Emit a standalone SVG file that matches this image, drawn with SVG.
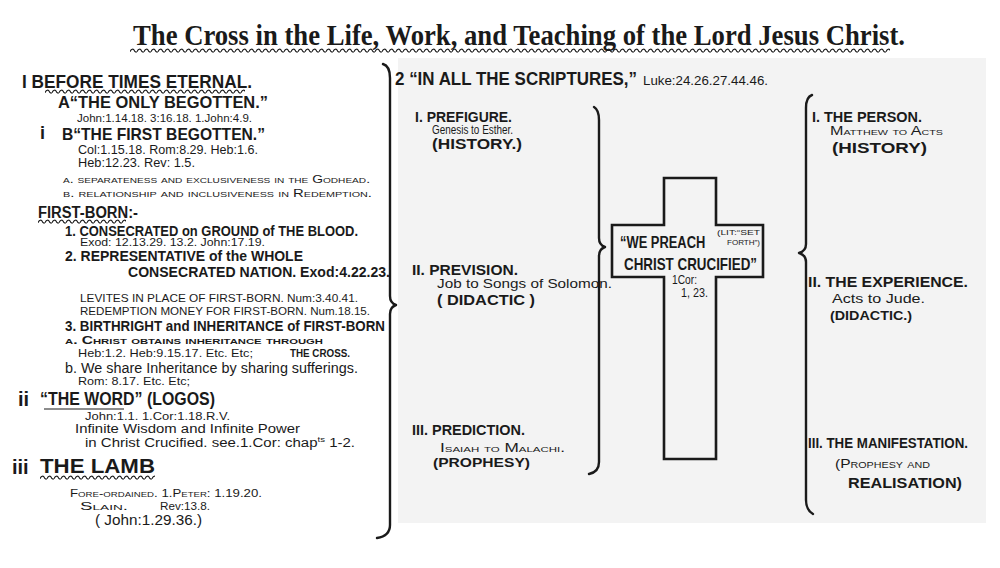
<svg xmlns="http://www.w3.org/2000/svg" width="1000" height="568" viewBox="0 0 1000 568">
<style>
.t{font-family:"Liberation Sans",Arial,sans-serif;fill:#1a1a1a}
.s{font-family:"Liberation Serif","Times New Roman",serif;fill:#1a1a1a}
.b{font-weight:bold}
.sc{font-variant:small-caps}
.br{fill:none;stroke:#1a1a1a;stroke-width:2.4;stroke-linecap:round;stroke-linejoin:round}
.cr{fill:none;stroke:#1a1a1a;stroke-width:2.6}
</style>
<defs>
<pattern id="wave" patternUnits="userSpaceOnUse" width="7" height="5">
<path d="M0,3.8 C1,0.8 3.5,0.4 4.3,2.5 C4.8,4 6,4.2 7,3.8" fill="none" stroke="#1a1a1a" stroke-width="1.1"/>
</pattern>
</defs>
<rect width="1000" height="568" fill="#ffffff"/>
<rect x="398" y="58" width="588" height="465" fill="#f3f3f3"/>

<g id="title">
<text class="s b" x="133" y="45" font-size="30" textLength="772" lengthAdjust="spacingAndGlyphs">The Cross in the Life, Work, and Teaching of the Lord Jesus Christ.</text>
<rect x="0" y="0" width="760" height="5" fill="url(#wave)" transform="translate(130,48)"/>
</g>

<g id="before-times-eternal">
<text class="t b" x="22" y="88" font-size="18" textLength="230" lengthAdjust="spacingAndGlyphs">I BEFORE TIMES ETERNAL.</text>
<rect x="0" y="0" width="200" height="5" fill="url(#wave)" transform="translate(45,89)"/>
<text class="t b" x="58" y="108" font-size="17" textLength="210" lengthAdjust="spacingAndGlyphs">A“THE ONLY BEGOTTEN.”</text>
<text class="t" x="77" y="122" font-size="11" textLength="175" lengthAdjust="spacingAndGlyphs">John:1.14.18. 3:16.18. 1.John:4.9.</text>
<text class="t b" x="40" y="139" font-size="18">i</text>
<text class="t b" x="62" y="140" font-size="17" textLength="203" lengthAdjust="spacingAndGlyphs">B“THE FIRST BEGOTTEN.”</text>
<text class="t" x="78" y="154" font-size="12" textLength="180" lengthAdjust="spacingAndGlyphs">Col:1.15.18. Rom:8.29. Heb:1.6.</text>
<text class="t" x="78" y="167" font-size="12" textLength="117" lengthAdjust="spacingAndGlyphs">Heb:12.23. Rev: 1.5.</text>
<text class="t sc" x="63" y="183" font-size="11" textLength="307" lengthAdjust="spacingAndGlyphs">a. separateness and exclusiveness in the Godhead.</text>
<text class="t sc" x="63" y="197" font-size="11" textLength="309" lengthAdjust="spacingAndGlyphs">b. relationship and inclusiveness in Redemption.</text>
</g>

<g id="first-born">
<text class="t b" x="38" y="218" font-size="16" textLength="100" lengthAdjust="spacingAndGlyphs">FIRST-BORN:-</text>
<rect x="0" y="0" width="88" height="5" fill="url(#wave)" transform="translate(38,219)"/>
<text class="t b" x="65" y="236" font-size="14" textLength="293" lengthAdjust="spacingAndGlyphs">1. CONSECRATED on GROUND of THE BLOOD.</text>
<text class="t" x="80" y="246" font-size="10" textLength="185" lengthAdjust="spacingAndGlyphs">Exod: 12.13.29. 13.2. John:17.19.</text>
<text class="t b" x="65" y="261" font-size="14" textLength="238" lengthAdjust="spacingAndGlyphs">2. REPRESENTATIVE of the WHOLE</text>
<text class="t b" x="128" y="277" font-size="15" textLength="262" lengthAdjust="spacingAndGlyphs">CONSECRATED NATION. Exod:4.22.23.</text>
<text class="t" x="80" y="302" font-size="10.5" textLength="278" lengthAdjust="spacingAndGlyphs">LEVITES IN PLACE OF FIRST-BORN. Num:3.40.41.</text>
<text class="t" x="80" y="315" font-size="10.5" textLength="290" lengthAdjust="spacingAndGlyphs">REDEMPTION MONEY FOR FIRST-BORN. Num.18.15.</text>
<text class="t b" x="65" y="331" font-size="14" textLength="320" lengthAdjust="spacingAndGlyphs">3. BIRTHRIGHT and INHERITANCE of FIRST-BORN</text>
<text class="t b sc" x="65" y="344" font-size="11" textLength="258" lengthAdjust="spacingAndGlyphs">a. Christ obtains inheritance through</text>
<text class="t" x="78" y="357" font-size="11.5" textLength="175" lengthAdjust="spacingAndGlyphs">Heb:1.2. Heb:9.15.17. Etc. Etc;</text>
<text class="t b" x="290" y="357" font-size="10" textLength="60" lengthAdjust="spacingAndGlyphs">THE CROSS.</text>
<text class="t" x="65" y="373" font-size="14" textLength="293" lengthAdjust="spacingAndGlyphs">b. We share Inheritance by sharing sufferings.</text>
<text class="t" x="78" y="385" font-size="11" textLength="112" lengthAdjust="spacingAndGlyphs">Rom: 8.17. Etc. Etc;</text>
</g>

<g id="the-word">
<text class="t b" x="18" y="406" font-size="20">ii</text>
<text class="t b" x="40" y="405" font-size="18" textLength="175" lengthAdjust="spacingAndGlyphs">“THE WORD” (LOGOS)</text>
<line x1="44" y1="409" x2="124" y2="409" stroke="#1a1a1a" stroke-width="1"/>
<text class="t" x="85" y="420" font-size="11" textLength="145" lengthAdjust="spacingAndGlyphs">John:1.1. 1.Cor:1.18.R.V.</text>
<text class="t" x="75" y="433" font-size="12.5" textLength="225" lengthAdjust="spacingAndGlyphs">Infinite Wisdom and Infinite Power</text>
<text class="t" x="85" y="447" font-size="12.5" textLength="270" lengthAdjust="spacingAndGlyphs">in Christ Crucified. see.1.Cor: chap<tspan dy="-5" font-size="8">ts</tspan><tspan dy="5"> 1-2.</tspan></text>
</g>

<g id="the-lamb">
<text class="t b" x="12" y="474" font-size="20">iii</text>
<text class="t b" x="40" y="473" font-size="20" textLength="115" lengthAdjust="spacingAndGlyphs">THE LAMB</text>
<rect x="0" y="0" width="115" height="5" fill="url(#wave)" transform="translate(40,475)"/>
<text class="t sc" x="70" y="497" font-size="11" textLength="192" lengthAdjust="spacingAndGlyphs">Fore-ordained. 1.Peter: 1.19.20.</text>
<text class="t sc" x="80" y="510" font-size="11" textLength="48" lengthAdjust="spacingAndGlyphs">Slain.</text>
<text class="t" x="160" y="510" font-size="11" textLength="50" lengthAdjust="spacingAndGlyphs">Rev:13.8.</text>
<text class="t" x="95" y="525" font-size="14" textLength="107" lengthAdjust="spacingAndGlyphs">( John:1.29.36.)</text>
</g>

<g id="in-all-the-scriptures">
<text class="t b" x="395" y="85" font-size="18" textLength="242" lengthAdjust="spacingAndGlyphs">2 “IN ALL THE SCRIPTURES,”</text>
<text class="t" x="643" y="85" font-size="12.5" textLength="125" lengthAdjust="spacingAndGlyphs">Luke:24.26.27.44.46.</text>
</g>

<g id="prefigure">
<text class="t b" x="415" y="122" font-size="14" textLength="97" lengthAdjust="spacingAndGlyphs">I. PREFIGURE.</text>
<text class="t" x="432" y="134" font-size="12" textLength="81" lengthAdjust="spacingAndGlyphs">Genesis to Esther.</text>
<text class="t b" x="432" y="149" font-size="14" textLength="90" lengthAdjust="spacingAndGlyphs">(HISTORY.)</text>
</g>

<g id="prevision">
<text class="t b" x="412" y="275" font-size="15" textLength="106" lengthAdjust="spacingAndGlyphs">II. PREVISION.</text>
<text class="t" x="437" y="288" font-size="13.5" textLength="175" lengthAdjust="spacingAndGlyphs">Job to Songs of Solomon.</text>
<text class="t b" x="437" y="305" font-size="15" textLength="98" lengthAdjust="spacingAndGlyphs">( DIDACTIC )</text>
</g>

<g id="prediction">
<text class="t b" x="412" y="435" font-size="14" textLength="113" lengthAdjust="spacingAndGlyphs">III. PREDICTION.</text>
<text class="t sc" x="440" y="452" font-size="12" textLength="125" lengthAdjust="spacingAndGlyphs">Isaiah to Malachi.</text>
<text class="t b" x="433" y="467" font-size="12.5" textLength="97" lengthAdjust="spacingAndGlyphs">(PROPHESY)</text>
</g>

<g id="cross">
<path class="cr" d="M664,178 H716 V225 H763 V277 H716 V459 H664 V277 H612 V225 H664 Z"/>
<text class="t b" transform="translate(620,248) scale(0.76,1)" x="0" y="0" font-size="17">“WE PREACH</text>
<text class="t" x="717" y="235" font-size="7" textLength="43" lengthAdjust="spacingAndGlyphs">(LIT:“SET</text>
<text class="t" x="727" y="245" font-size="7" textLength="33" lengthAdjust="spacingAndGlyphs">FORTH”)</text>
<text class="t b" x="624" y="270" font-size="17" textLength="133" lengthAdjust="spacingAndGlyphs">CHRIST CRUCIFIED”</text>
<text class="t" x="672" y="284" font-size="12" textLength="25" lengthAdjust="spacingAndGlyphs">1Cor:</text>
<text class="t" x="681" y="297" font-size="12" textLength="27" lengthAdjust="spacingAndGlyphs">1, 23.</text>
</g>

<g id="the-person">
<text class="t b" x="812" y="122" font-size="14" textLength="110" lengthAdjust="spacingAndGlyphs">I. THE PERSON.</text>
<text class="t sc" x="830" y="135" font-size="12" textLength="113" lengthAdjust="spacingAndGlyphs">Matthew to Acts</text>
<text class="t b" x="832" y="153" font-size="15" textLength="95" lengthAdjust="spacingAndGlyphs">(HISTORY)</text>
</g>

<g id="the-experience">
<text class="t b" x="808" y="287" font-size="14" textLength="160" lengthAdjust="spacingAndGlyphs">II. THE EXPERIENCE.</text>
<text class="t" x="832" y="303" font-size="13" textLength="93" lengthAdjust="spacingAndGlyphs">Acts to Jude.</text>
<text class="t b" x="830" y="320" font-size="13" textLength="82" lengthAdjust="spacingAndGlyphs">(DIDACTIC.)</text>
</g>

<g id="the-manifestation">
<text class="t b" x="808" y="448" font-size="14" textLength="160" lengthAdjust="spacingAndGlyphs">III. THE MANIFESTATION.</text>
<text class="t sc" x="835" y="468" font-size="13" textLength="95" lengthAdjust="spacingAndGlyphs">(Prophesy and</text>
<text class="t b" x="848" y="488" font-size="15" textLength="114" lengthAdjust="spacingAndGlyphs">REALISATION)</text>
</g>

<g id="connectors">
<path class="br" d="M383,64 Q390,66 390,78 L390,296 Q390,303 396,305 Q390,307 390,314 L390,525 Q390,536 377,538"/>
<path class="br" d="M594,107 Q599,110 599,120 L599,238 Q599,245 605,247 Q599,249 599,256 L599,462 Q599,472 589,474"/>
<path class="br" d="M812,95 Q806,97 806,108 L806,244 Q806,251 799,253 Q806,255 806,262 L806,500 Q806,510 813,514"/>
</g>
</svg>
